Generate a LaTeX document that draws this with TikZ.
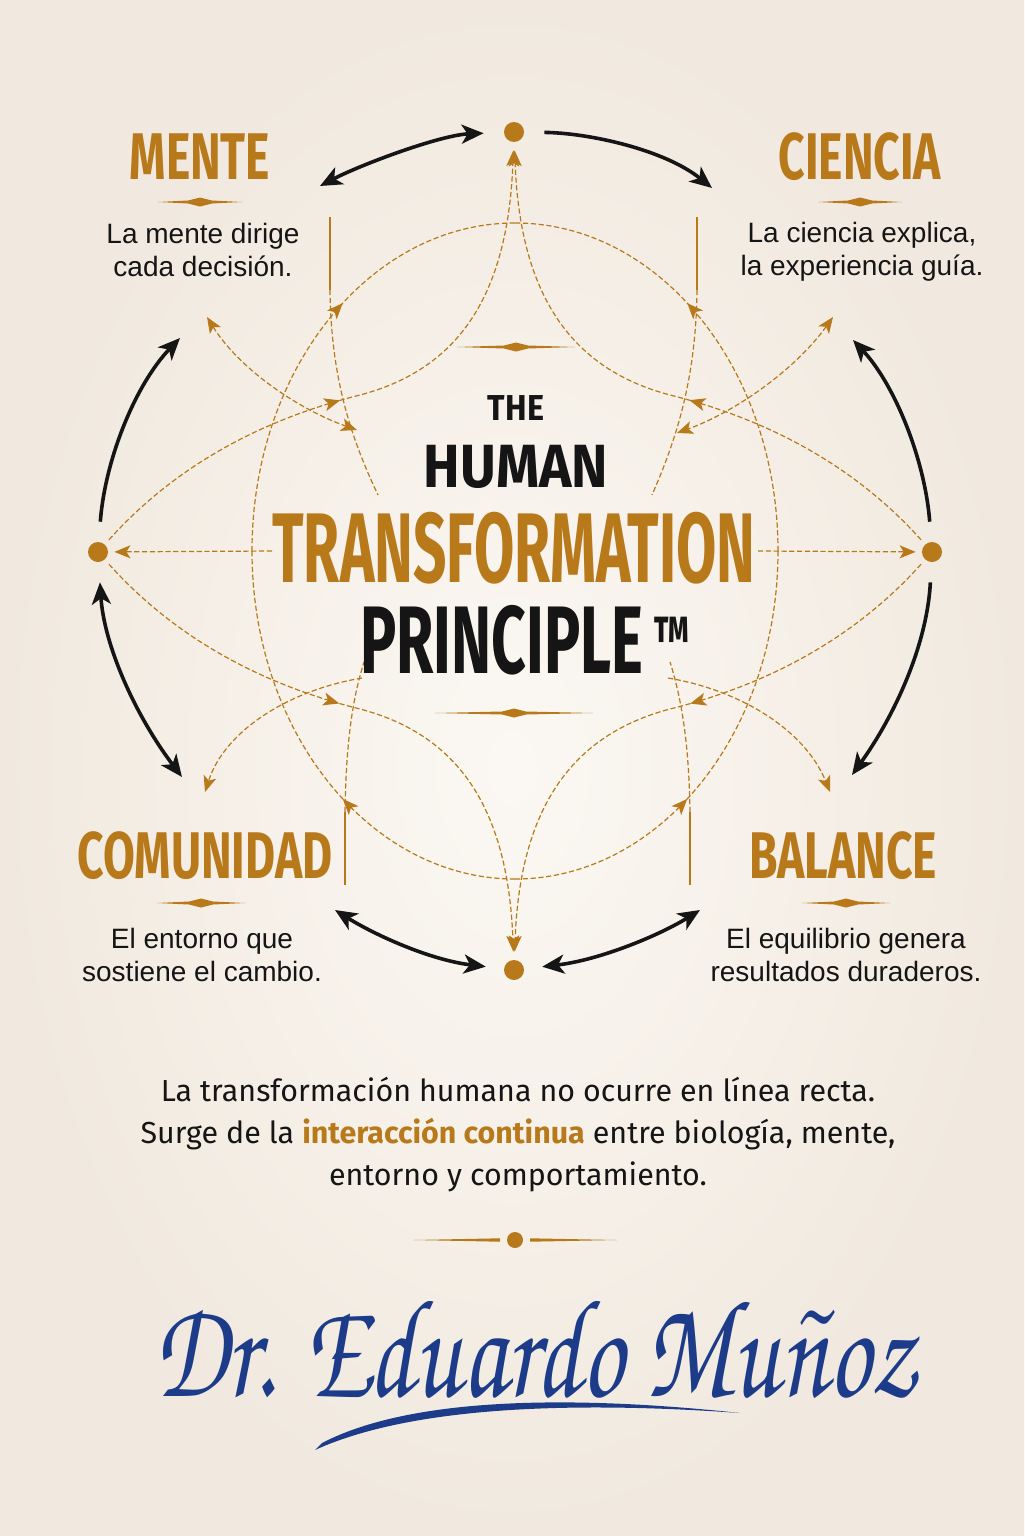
\documentclass[tikz,border=0pt]{standalone}
\usepackage{fontspec}
\setmainfont{Liberation Sans}
\newfontfamily\headfont[FakeStretch=0.7]{Fira Sans}
\newfontfamily\titlefont[FakeStretch=0.9]{Fira Sans}
\newfontfamily\narrowfont[FakeStretch=0.59]{Fira Sans}
\newfontfamily\principlefont[FakeStretch=0.63]{Fira Sans}
\newfontfamily\parafont{Fira Sans}
\newfontfamily\signfont{texgyrechorus-mediumitalic.otf}
\usetikzlibrary{positioning, arrows.meta, decorations.markings}

\definecolor{paperlight}{HTML}{FBF8F3}
\definecolor{paperedge}{HTML}{F1E9DF}
\definecolor{gold}{HTML}{B7791A}
\definecolor{ink}{HTML}{151515}
\definecolor{navy}{HTML}{1C3C8A}

\begin{document}
\begin{tikzpicture}[
    % pixel grid, y pointing down
    x=0.5pt, y=-0.5pt,
    % Arrow tips
    goldtip/.tip={Stealth[length=8pt, width=6.5pt, inset=2pt]},
    inktip/.tip={Stealth[length=11pt, width=9.5pt, inset=3pt]},
    % Dots on the ring
    ring_dot/.style={circle, fill=gold, minimum size=10pt, inner sep=0pt},
    % Black outer arrows
    ring_arrow/.style={line width=1.8pt, ink, >=inktip},
    % Golden dashed links
    gold_link/.style={gold, line width=0.6pt, dash pattern=on 2.6pt off 1.3pt, >=goldtip},
    mid_arrow/.style={postaction={decorate}, decoration={markings, mark=at position #1 with {\arrow{goldtip}}}},
    gold_bar/.style={gold, line width=1.4pt},
    % Text styles
    heading/.style={font=\headfont\bfseries\fontsize{33}{36}\selectfont, text=gold},
    blurb/.style={font=\fontsize{14}{16.5}\selectfont, text=ink, align=center},
    title_line/.style={anchor=base, inner sep=0pt},
    % Ornament divider
    pics/divider/.style={code={\fill[gold] (-#1,0) -- (-12,-1.5) -- (0,-4.5) -- (12,-1.5) -- (#1,0) -- (12,1.5) -- (0,4.5) -- (-12,1.5) -- cycle;}}
]

%% --- BACKGROUND ---
\useasboundingbox (0,0) rectangle (1024,1536);
\shade[inner color=paperlight, outer color=paperedge] (0,0) rectangle (1024,1536);

%% --- RING DOTS ---
\node[ring_dot] (T) at (514,132) {};
\node[ring_dot] (L) at (98,552) {};
\node[ring_dot] (R) at (932,552) {};
\node[ring_dot] (B) at (514,970) {};

%% --- GOLDEN NETWORK ---
% big dashed ellipse (four quarters)
\draw[gold_link, mid_arrow=0.58] (252,551) arc[start angle=180, end angle=270, x radius=263, y radius=328];
\draw[gold_link, mid_arrow=0.58] (778,551) arc[start angle=0, end angle=-90, x radius=263, y radius=328];
\draw[gold_link, mid_arrow=0.42] (515,879) arc[start angle=90, end angle=180, x radius=263, y radius=328];
\draw[gold_link, mid_arrow=0.42] (515,879) arc[start angle=90, end angle=0, x radius=263, y radius=328];

% side dots to top and bottom dots
\draw[gold_link, ->, mid_arrow=0.45, shorten <=3pt, shorten >=4pt] (L) .. controls (185,455) and (280,415) .. (360,395) .. controls (455,370) and (508,300) .. (T);
\draw[gold_link, ->, mid_arrow=0.45, shorten <=3pt, shorten >=4pt] (R) .. controls (845,455) and (750,415) .. (670,395) .. controls (575,370) and (520,300) .. (T);
\draw[gold_link, ->, mid_arrow=0.45, shorten <=3pt, shorten >=4pt] (L) .. controls (185,649) and (280,689) .. (360,709) .. controls (455,734) and (508,804) .. (B);
\draw[gold_link, ->, mid_arrow=0.45, shorten <=3pt, shorten >=4pt] (R) .. controls (845,649) and (750,689) .. (670,709) .. controls (575,734) and (520,804) .. (B);

% horizontal links
\coordinate (hL) at (272,551);
\coordinate (hR) at (758,551);
\draw[gold_link, ->, shorten >=3pt] (hL) -- (L);
\draw[gold_link, ->, shorten >=3pt] (hR) -- (R);

% short bars with their dashed tails
\draw[gold_bar] (330,217) -- (330,290);
\draw[gold_link] (330,290) .. controls (331,380) and (352,440) .. (378,495);
\draw[gold_bar] (697,217) -- (697,290);
\draw[gold_link] (697,290) .. controls (696,380) and (676,440) .. (652,495);
\draw[gold_bar] (345,812) -- (345,885);
\draw[gold_link] (345,812) .. controls (346,745) and (352,700) .. (364,662);
\draw[gold_bar] (690,812) -- (690,885);
\draw[gold_link] (690,812) .. controls (689,745) and (682,700) .. (670,662);

% links towards the four labels
\coordinate (mC) at (207,317);  \coordinate (mD) at (357,430);
\coordinate (cC) at (833,317);  \coordinate (cD) at (677,433);
\coordinate (uC) at (362,678);  \coordinate (uD) at (205,792);
\coordinate (bC) at (668,678);  \coordinate (bD) at (830,792);
\draw[gold_link, <->] (mC) .. controls (240,370) and (300,410) .. (mD);
\draw[gold_link, <->] (cC) .. controls (795,370) and (735,412) .. (cD);
\draw[gold_link, ->] (uC) .. controls (290,690) and (225,730) .. (uD);
\draw[gold_link, ->] (bC) .. controls (740,690) and (805,730) .. (bD);

%% --- BLACK OUTER ARROWS ---
\coordinate (mA) at (320,186);
\coordinate (cA) at (712,188);
\coordinate (mB) at (180,338);
\coordinate (cB) at (853,340);
\coordinate (uB) at (182,777);
\coordinate (bB) at (852,775);
\coordinate (uA) at (335,910);
\coordinate (bA) at (700,910);
\draw[ring_arrow, <->, shorten >=10pt] (mA) .. controls (360,165) and (440,135) .. (T);
\draw[ring_arrow, ->, shorten <=10pt] (T) .. controls (590,133) and (665,150) .. (cA);
\draw[ring_arrow, ->, shorten <=10pt] (L) .. controls (105,460) and (135,385) .. (mB);
\draw[ring_arrow, ->, shorten <=10pt] (R) .. controls (925,460) and (895,385) .. (cB);
\draw[ring_arrow, <->, shorten <=10pt] (L) .. controls (104,645) and (135,715) .. (uB);
\draw[ring_arrow, ->, shorten <=10pt] (R) .. controls (927,645) and (895,715) .. (bB);
\draw[ring_arrow, <->, shorten >=9pt] (uA) .. controls (375,935) and (430,960) .. (B);
\draw[ring_arrow, <->, shorten <=9pt] (B) .. controls (600,960) and (660,935) .. (bA);

%% --- CORNER LABELS ---
\node[heading] (mente) at (200,157) {MENTE};
\node[heading] (ciencia) at (860,157) {CIENCIA};
\node[heading] (comunidad) at (205,856) {COMUNIDAD};
\node[heading] (balance) at (843,856) {BALANCE};
\pic at (200,202) {divider=42};
\pic at (860,202) {divider=42};
\pic at (201,903) {divider=44};
\pic at (846,903) {divider=44};
\node[blurb] (menteTxt) at (203,250) {La mente dirige\\cada decisión.};
\node[blurb] (cienciaTxt) at (862,252) {La ciencia explica,\\la experiencia guía.};
\node[blurb] (comunidadTxt) at (202,955) {El entorno que\\sostiene el cambio.};
\node[blurb] (balanceTxt) at (846,955) {El equilibrio genera\\resultados duraderos.};

%% --- TITLE ---
\pic at (516,347) {divider=59};
\node[title_line, font=\titlefont\bfseries\fontsize{18}{20}\selectfont, text=ink] (the) at (516,420) {THE};
\node[title_line, font=\titlefont\bfseries\fontsize{30.5}{32}\selectfont, text=ink] (human) at (516,487) {HUMAN};
\node[title_line, font=\narrowfont\bfseries\fontsize{49.5}{52}\selectfont, text=gold] (transf) at (514,582) {TRANSFORMATION};
\node[title_line, font=\principlefont\bfseries\fontsize{48}{50}\selectfont, text=ink] (principle) at (525,673) {PRINCIPLE\hspace{5pt}{\fontsize{32}{32}\selectfont\raisebox{6pt}{™}}};
\pic at (514,713) {divider=79};

%% --- CLOSING TEXT ---
\node[font=\parafont\fontsize{15.2}{21}\selectfont, text=ink, align=center] (para) at (518,1135)
    {La transformación humana no ocurre en línea recta.\\
     Surge de la \textcolor{gold}{\bfseries interacción continua} entre biología, mente,\\
     entorno y comportamiento.};

% separator
\node[circle, fill=gold, minimum size=8pt, inner sep=0pt] (sepDot) at (515,1240) {};
\fill[gold] (413,1240) -- (500,1238.3) -- (500,1241.7) -- cycle;
\fill[gold] (617,1240) -- (530,1238.3) -- (530,1241.7) -- cycle;

%% --- SIGNATURE ---
\node[font=\signfont\fontsize{52}{52}\selectfont, text=navy, anchor=base, yscale=1.35, transform shape] (sign) at (535,1396) {Dr. Eduardo Muñoz};
\fill[navy] (315,1450) .. controls (420,1402) and (600,1403) .. (740,1413) .. controls (600,1398) and (420,1392) .. (322,1443) -- cycle;

\end{tikzpicture}
\end{document}
